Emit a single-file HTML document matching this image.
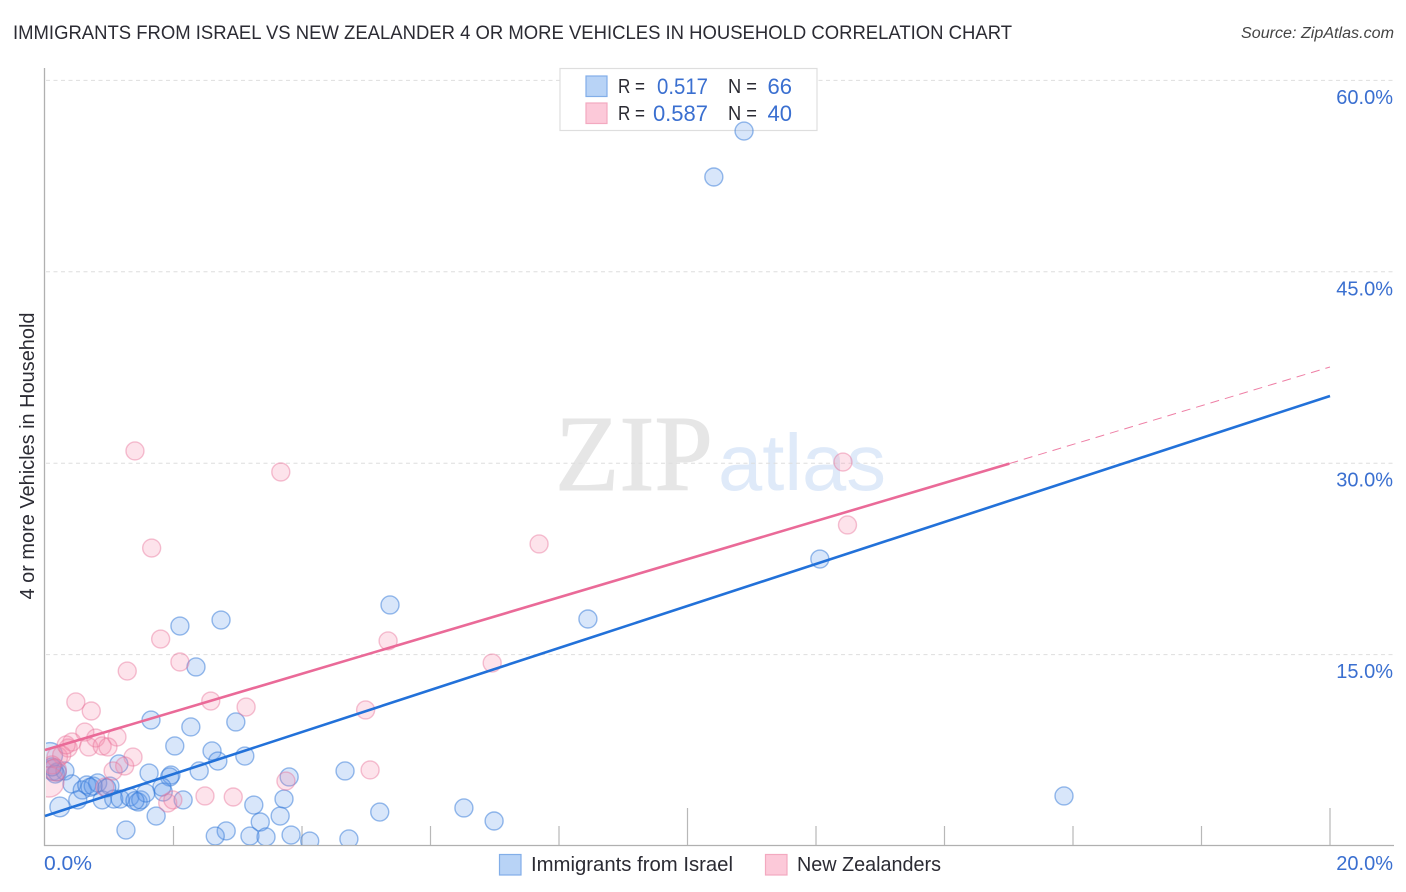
<!DOCTYPE html>
<html lang="en">
<head>
<meta charset="utf-8">
<title>Immigrants from Israel vs New Zealander 4 or more Vehicles in Household Correlation Chart</title>
<style>
html,body{margin:0;padding:0;background:#fff;}
svg{display:block;font-family:"Liberation Sans",sans-serif;}
.blue-pt{fill:rgba(90,150,235,.24);stroke:rgba(50,120,215,.5);stroke-width:1.4;}
.pink-pt{fill:rgba(245,140,172,.24);stroke:rgba(232,110,150,.42);stroke-width:1.4;}
.val{fill:#3a6fd0;}
.lab{fill:#2b2b33;}
</style>
</head>
<body>
<svg id="chart" width="1406" height="892" viewBox="0 0 1406 892" xmlns="http://www.w3.org/2000/svg">
  <defs><clipPath id="plot-clip"><rect x="46" y="60" width="1348" height="785"/></clipPath></defs>
  <text x="13" y="39" font-size="19" fill="#2b2b33" textLength="999" lengthAdjust="spacingAndGlyphs">IMMIGRANTS FROM ISRAEL VS NEW ZEALANDER 4 OR MORE VEHICLES IN HOUSEHOLD CORRELATION CHART</text>
  <text x="1241" y="38" font-size="15.5" font-style="italic" fill="#444" textLength="153" lengthAdjust="spacingAndGlyphs">Source: ZipAtlas.com</text>
  <g>
    <text x="555" y="490" font-family="'Liberation Serif',serif" font-size="108" fill="#e6e6e6" stroke="#e6e6e6" stroke-width="1" textLength="158" lengthAdjust="spacingAndGlyphs">ZIP</text>
    <text x="718" y="490" font-size="80" fill="#dfeaf9" textLength="168" lengthAdjust="spacingAndGlyphs">atlas</text>
  </g>
  <g id="grid"></g>
  <g id="axes"></g>
  <g>
    <rect x="560" y="68.5" width="257" height="62" fill="#fff" stroke="#dedede" stroke-width="1.2"/>
    <rect x="586" y="76" width="21" height="20.5" fill="#b8d3f6" stroke="#82aee8" stroke-width="1.2"/>
    <rect x="586" y="103" width="21" height="20.5" fill="#fcc9d9" stroke="#f3a9c0" stroke-width="1.2"/>
    <text class="lab" x="618" y="93" font-size="20" textLength="27" lengthAdjust="spacingAndGlyphs">R =</text>
    <text class="val" x="657" y="94" font-size="22" textLength="51" lengthAdjust="spacingAndGlyphs">0.517</text>
    <text class="lab" x="728" y="93" font-size="20" textLength="29" lengthAdjust="spacingAndGlyphs">N =</text>
    <text class="val" x="792" y="94" font-size="22" text-anchor="end">66</text>
    <text class="lab" x="618" y="120" font-size="20" textLength="27" lengthAdjust="spacingAndGlyphs">R =</text>
    <text class="val" x="708" y="121" font-size="22" text-anchor="end">0.587</text>
    <text class="lab" x="728" y="120" font-size="20" textLength="29" lengthAdjust="spacingAndGlyphs">N =</text>
    <text class="val" x="792" y="121" font-size="22" text-anchor="end">40</text>
  </g>
  <g id="points" clip-path="url(#plot-clip)"></g>
  <g id="lines"></g>
  <text class="lab" transform="translate(34,456) rotate(-90)" font-size="20" text-anchor="middle" textLength="287" lengthAdjust="spacingAndGlyphs">4 or more Vehicles in Household</text>
  <g>
    <rect x="499.5" y="854.5" width="21.5" height="20.5" fill="#b8d3f6" stroke="#82aee8" stroke-width="1.2"/>
    <text class="lab" x="531" y="871" font-size="20" textLength="202" lengthAdjust="spacingAndGlyphs">Immigrants from Israel</text>
    <rect x="765.5" y="854.5" width="21.5" height="20.5" fill="#fcc9d9" stroke="#f3a9c0" stroke-width="1.2"/>
    <text class="lab" x="797" y="871" font-size="20" textLength="144" lengthAdjust="spacingAndGlyphs">New Zealanders</text>
  </g>
</svg>
<script>
const xTickValues = [0, 2, 4, 6, 8, 10, 12, 14, 16, 18, 20];
const xTickLabels = ['0.0%', '20.0%'];
const yTickValues = [15, 30, 45, 60];
const yTickLabels = ['15.0%', '30.0%', '45.0%', '60.0%'];

const blueX = [2.35,1.65,2.27,2.97,2.02,2.60,2.69,3.11,1.15,1.62,2.40,1.96,1.94,3.80,0.08,0.12,0.31,0.19,0.42,0.58,0.65,0.75,0.82,1.01,0.51,0.23,0.89,1.07,1.17,1.32,1.45,1.49,1.57,1.82,1.84,2.15,1.73,1.26,3.25,3.72,3.66,3.35,2.82,2.65,3.19,3.44,3.83,4.67,5.21,6.52,6.99,4.12,4.73,10.88,10.41,5.37,8.45,12.06,2.10,2.74,15.86,0.16,0.11,0.96,1.40,0.70];
const blueY = [14.03,9.87,9.33,9.72,7.84,7.45,6.66,7.05,6.43,5.72,5.88,5.56,5.41,5.41,7.13,5.96,5.88,5.80,4.86,4.39,4.78,4.70,4.94,4.70,3.61,3.06,3.61,3.68,3.68,3.84,3.45,3.61,4.15,4.62,4.23,3.61,2.35,1.25,3.21,3.68,2.35,1.88,1.18,0.78,0.78,0.71,0.86,5.88,2.66,2.98,1.96,0.39,0.55,56.03,52.43,18.89,17.79,22.49,17.24,17.71,3.92,5.64,6.20,4.55,3.55,4.60];
const blueWeights = {14: 1.9, 25: 1.2, 15: 1.3};

const pinkX = [1.40,3.67,1.66,12.42,12.49,7.69,1.80,5.34,1.28,2.10,6.96,2.58,0.48,0.72,3.13,4.99,0.62,0.42,1.12,0.79,0.36,0.68,0.89,0.98,0.19,0.26,1.37,1.24,1.06,0.06,0.93,1.91,2.49,2.93,3.75,5.06,1.99,0.11,0.16,0.33];
const pinkY = [30.96,29.31,23.35,30.09,25.16,23.67,16.22,16.07,13.71,14.42,14.34,11.36,11.29,10.58,10.89,10.66,8.93,8.15,8.54,8.46,7.68,7.76,7.84,7.76,6.97,7.13,6.97,6.27,5.88,5.02,4.62,3.37,3.92,3.84,5.09,5.96,3.61,6.35,5.96,7.92];
const pinkWeights = {29: 2.8, 38: 1.5, 24: 1.3};

const blueTrendX = [0, 20];
const blueTrendY = [2.35, 35.27];
const pinkTrendX = [0, 15.01];
const pinkTrendY = [7.52, 29.97];
const pinkDashX = [15.01, 20];
const pinkDashY = [29.97, 37.54];

const X0 = 45, PXW = 1285, XMAX = 20;
const Y0 = 846, PXH = 12.76;
const baseRadius = 9;
function xScale(v) { return X0 + v / XMAX * PXW; }
function yScale(v) { return Y0 - v * PXH; }
const NS = 'http://www.w3.org/2000/svg';
function make(tag, attrs, parent) {
  const el = document.createElementNS(NS, tag);
  for (const k in attrs) el.setAttribute(k, attrs[k]);
  parent.appendChild(el);
  return el;
}
const grid = document.getElementById('grid');
const axes = document.getElementById('axes');
const pts = document.getElementById('points');
const lines = document.getElementById('lines');

yTickValues.forEach(function (v, i) {
  const g = make('line', {x1: 46, x2: 1394, y1: yScale(v), y2: yScale(v), stroke: '#dedede', 'stroke-width': 1, 'stroke-dasharray': '4 3.5'}, grid);
  
  
  const t = make('text', {x: 1393, y: yScale(v) + 23.5, 'font-size': 20, 'text-anchor': 'end', fill: '#3a6fd0'}, axes);
  
  
  t.textContent = yTickLabels[i];
});

const yAxis = make('line', {x1: 44.5, x2: 44.5, y1: 68, y2: 846, stroke: '#b0b0b0', 'stroke-width': 1.3}, axes);


const xAxis = make('line', {x1: 44, x2: 1394, y1: 845.5, y2: 845.5, stroke: '#b0b0b0', 'stroke-width': 1.3}, axes);



xTickValues.slice(1).forEach(function (v) {
  const major = v % 10 === 0;
  const t = make('line', {x1: xScale(v), x2: xScale(v), y1: major ? 808 : 826, y2: 845, stroke: '#b8b8b8', 'stroke-width': 1.2}, axes);
  
  
});
const xl0 = make('text', {x: 44, y: 870, 'font-size': 20, fill: '#3a6fd0', textLength: 48, lengthAdjust: 'spacingAndGlyphs'}, axes);


xl0.textContent = xTickLabels[0];
const xl1 = make('text', {x: 1393, y: 870, 'font-size': 20, 'text-anchor': 'end', fill: '#3a6fd0'}, axes);


xl1.textContent = xTickLabels[1];

blueX.forEach(function (v, i) {
  const c = make('circle', {cx: xScale(v), cy: yScale(blueY[i]), r: baseRadius * Math.sqrt(blueWeights[i] || 1), 'class': 'blue-pt'}, pts);
  
  
});
pinkX.forEach(function (v, i) {
  const c = make('circle', {cx: xScale(v), cy: yScale(pinkY[i]), r: baseRadius * Math.sqrt(pinkWeights[i] || 1), 'class': 'pink-pt'}, pts);
  
  
});

const pinkDash = make('line', {x1: xScale(pinkDashX[0]), y1: yScale(pinkDashY[0]), x2: xScale(pinkDashX[1]), y2: yScale(pinkDashY[1]), stroke: '#ee7fa5', 'stroke-width': 1, 'stroke-dasharray': '9 6'}, lines);


const pinkLine = make('line', {x1: xScale(pinkTrendX[0]), y1: yScale(pinkTrendY[0]), x2: xScale(pinkTrendX[1]), y2: yScale(pinkTrendY[1]), stroke: '#ea6a98', 'stroke-width': 2.6}, lines);


const blueLine = make('line', {x1: xScale(blueTrendX[0]), y1: yScale(blueTrendY[0]), x2: xScale(blueTrendX[1]), y2: yScale(blueTrendY[1]), stroke: '#2271d9', 'stroke-width': 2.6}, lines);


</script>
</body>
</html>
